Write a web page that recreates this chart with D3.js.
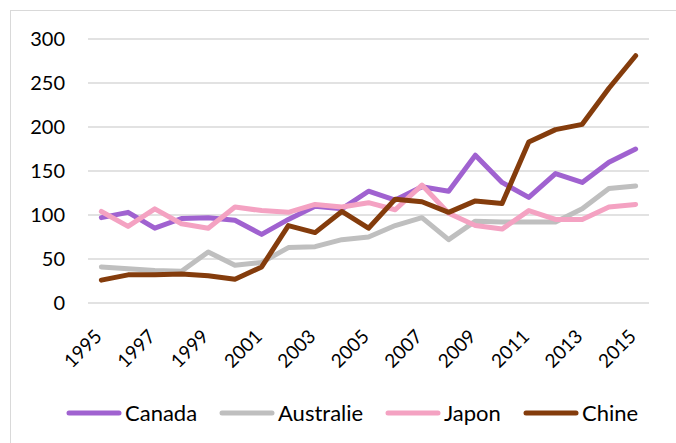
<!DOCTYPE html>
<html>
<head>
<meta charset="utf-8">
<script src="https://cdn.jsdelivr.net/npm/d3@7"></script>
<style>
  body { margin: 0; background: #fff; }
  svg { font-family: "Lato", sans-serif; }
</style>
</head>
<body>
<svg id="chart" width="676" height="443"></svg>
<script>
// years and values
var years = d3.range(1995, 2016);
var canada    = [97, 103, 85, 96, 97, 94, 78, 95, 110, 107, 127, 117, 132, 127, 168, 137, 120, 147, 137, 160, 175];
var australie = [41, 39, 37, 36, 58, 43, 46, 63, 64, 72, 75, 88, 97, 72, 93, 92, 92, 92, 107, 130, 133];
var japon     = [104, 87, 107, 90, 85, 109, 105, 103, 112, 109, 114, 106, 134, 102, 88, 84, 105, 95, 95, 109, 112];
var chine     = [26, 32, 32, 33, 31, 27, 41, 88, 80, 104, 85, 118, 115, 103, 116, 113, 183, 197, 203, 244, 281];
var yTicks = [0, 50, 100, 150, 200, 250, 300];
var xTicks = d3.range(1995, 2016, 2);

var series = [
  {name: "Canada",    values: canada,    color: "#a062d0"},
  {name: "Australie", values: australie, color: "#bfbfbf"},
  {name: "Japon",     values: japon,     color: "#f4a2c2"},
  {name: "Chine",     values: chine,     color: "#843c0c"}
];

var svg = d3.select("#chart");

// outer frame of the chart area
svg.append("rect")
  .attr("x", 10.5).attr("y", 10.5)
  .attr("width", 700).attr("height", 500)
  .attr("fill", "none")
  .attr("stroke", "#d9d9d9")
  .attr("stroke-width", 1);

var x = d3.scaleBand().domain(years).range([88, 649]);
var y = d3.scaleLinear().domain([0, 300]).range([303, 39]);

// gridlines
svg.append("g")
  .selectAll("line")
  .data(yTicks)
  .enter().append("line")
  .attr("x1", 88).attr("x2", 649)
  .attr("y1", function(d) { return y(d); })
  .attr("y2", function(d) { return y(d); })
  .attr("stroke", "#d9d9d9")
  .attr("stroke-width", 1.3);

// y axis labels
var yAxis = svg.append("g")
  .attr("transform", "translate(70,0)")
  .call(d3.axisLeft(y).tickValues(yTicks).tickSize(0).tickPadding(5));
yAxis.select(".domain").remove();
yAxis.selectAll("text")
  .attr("font-family", "Lato")
  .attr("font-size", 20)
  .attr("fill", "#000");

// x axis labels, rotated
var xAxis = svg.append("g")
  .attr("transform", "translate(0,303)")
  .call(d3.axisBottom(x).tickValues(xTicks).tickSize(0).tickPadding(0));
xAxis.select(".domain").remove();
xAxis.selectAll("text")
  .attr("font-family", "Lato")
  .attr("font-size", 19)
  .attr("fill", "#000")
  .attr("text-anchor", "end")
  .attr("dy", "0.35em")
  .attr("y", 0)
  .attr("transform", "translate(-3,30) rotate(-45)");

var line = d3.line()
  .x(function(d, i) { return x(years[i]) + x.bandwidth() / 2; })
  .y(function(d) { return y(d); });

svg.append("g")
  .selectAll("path")
  .data(series)
  .enter().append("path")
  .attr("d", function(d) { return line(d.values); })
  .attr("fill", "none")
  .attr("stroke", function(d) { return d.color; })
  .attr("stroke-width", 5)
  .attr("stroke-linejoin", "round")
  .attr("stroke-linecap", "round");

// legend
var legendX = [69, 222, 388, 526];
var legend = svg.append("g")
  .selectAll("g")
  .data(series)
  .enter().append("g")
  .attr("transform", function(d, i) { return "translate(" + legendX[i] + ",413)"; });

legend.append("line")
  .attr("x1", 0).attr("x2", 50)
  .attr("y1", 0).attr("y2", 0)
  .attr("stroke", function(d) { return d.color; })
  .attr("stroke-width", 5)
  .attr("stroke-linecap", "round");

legend.append("text")
  .attr("x", 56)
  .attr("dy", "0.35em")
  .attr("font-size", 22)
  .attr("fill", "#000")
  .text(function(d) { return d.name; });
</script>
</body>
</html>
